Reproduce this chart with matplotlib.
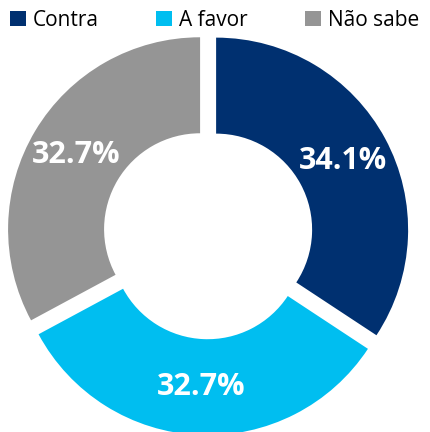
import matplotlib
matplotlib.use("Agg")
import matplotlib.pyplot as plt

labels = ["Contra", "A favor", "Não sabe"]
values = [34.1, 32.7, 32.7]
colors = ["#003070", "#00BEF0", "#959595"]

plt.rcParams['font.family'] = ['Open Sans', 'DejaVu Sans']

W, H = 430, 432
R = 192.0          # outer radius in px
cx, cy = 208, 234  # pie centre in px from top-left

fig = plt.figure(figsize=(W / 100, H / 100), dpi=100)
ax = fig.add_axes([0, 0, 1, 1])

wedges, texts, autotexts = ax.pie(
    values, colors=colors, startangle=90, counterclock=False,
    explode=[0.048] * 3, radius=1.0,
    wedgeprops=dict(width=0.5, edgecolor="none"),
    autopct=lambda p: f"{p * sum(values) / 100:.1f}%", pctdistance=0.75,
    textprops=dict(color="white", fontsize=22, fontweight="bold"),
)

ax.set_xlim(-cx / R, (W - cx) / R)
ax.set_ylim(-(H - cy) / R, cy / R)
ax.set_aspect("auto")
ax.axis("off")

fig.legend(wedges, labels, loc="upper left", bbox_to_anchor=(10 / W, 1 - 10 / H),
           ncol=3, frameon=False, fontsize=15, borderaxespad=0, borderpad=0,
           handlelength=0.75, handleheight=0.75, handletextpad=0.35,
           columnspacing=2.75)

fig.savefig("out.png", dpi=100)
